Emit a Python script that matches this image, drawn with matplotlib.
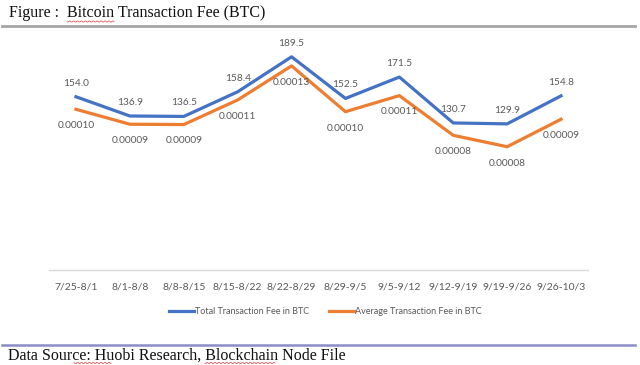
import matplotlib.pyplot as plt
import numpy as np

weeks = ['7/25-8/1', '8/1-8/8', '8/8-8/15', '8/15-8/22', '8/22-8/29',
         '8/29-9/5', '9/5-9/12', '9/12-9/19', '9/19-9/26', '9/26-10/3']
total_fee = [154.0, 136.9, 136.5, 158.4, 189.5, 152.5, 171.5, 130.7, 129.9, 154.8]
avg_fee = [0.0001000, 0.0000907, 0.0000905, 0.0001058, 0.0001270,
           0.0000985, 0.0001085, 0.0000838, 0.0000767, 0.0000938]

blue = '#4472C4'
orange = '#ED7D31'
grey = '#595959'
sans = ['Lato', 'DejaVu Sans']
serif = ['Liberation Serif', 'DejaVu Serif']

fig = plt.figure(figsize=(6.4, 3.65), dpi=100)
ax = fig.add_axes([49 / 640, 95 / 365, 539 / 640, 225 / 365])
ax2 = ax.twinx()

x = np.arange(len(weeks))
l1, = ax.plot(x, total_fee, color=blue, lw=2.3, label='Total Transaction Fee in BTC')
l2, = ax2.plot(x, avg_fee, color=orange, lw=2.3, label='Average Transaction Fee in BTC')

for xi, v in zip(x, total_fee):
    ax.annotate(f'{v:.1f}', (xi, v), xytext=(0, 6.5), textcoords='offset points',
                ha='center', va='bottom', fontsize=7.3, color=grey, family=sans)
for xi, v in zip(x, avg_fee):
    ax2.annotate(f'{v:.5f}', (xi, v), xytext=(0, -8.5), textcoords='offset points',
                 ha='center', va='top', fontsize=7.3, color=grey, family=sans)

ax.set_xlim(-0.5, len(weeks) - 0.5)
ax.set_ylim(0, 200)
ax2.set_ylim(0, 0.00014)
ax.set_xticks(x)
ax.set_xticklabels(weeks, fontsize=7.5, color=grey, family=sans)
ax.tick_params(axis='x', length=0, pad=9)
ax.set_yticks([])
ax2.set_yticks([])
for a in (ax, ax2):
    for s in ('top', 'left', 'right', 'bottom'):
        a.spines[s].set_visible(False)
ax.spines['bottom'].set_visible(True)
ax.spines['bottom'].set_color('#d9d9d9')
ax.spines['bottom'].set_linewidth(1)

fig.legend(handles=[l1, l2], loc='center', bbox_to_anchor=(325 / 640, 1 - 312 / 365),
           ncol=2, frameon=False, handlelength=2.8, handletextpad=0.1, columnspacing=2.2,
           prop={'family': sans, 'size': 6.5}, labelcolor=grey)

# document framing
fig.text(9 / 640, 1 - 13 / 365, 'Figure :  Bitcoin Transaction Fee (BTC)',
         fontsize=11.5, family=serif, va='center', ha='left', color='#111111')
fig.add_artist(plt.Line2D([2 / 640, 635 / 640], [1 - 25.7 / 365] * 2, color='#a6a6a6', lw=2))
fig.add_artist(plt.Line2D([2 / 640, 635 / 640], [1 - 345 / 365] * 2, color='#8c8cc8', lw=1.8))
fig.text(8 / 640, 1 - 356 / 365, 'Data Source: Huobi Research, Blockchain Node File',
         fontsize=11.5, family=serif, va='center', ha='left', color='#111111')

# spell-check squiggles from the word processor screenshot
for x0, x1, y in [(67, 115, 21.5), (74, 112, 363), (205, 276, 363)]:
    xs = np.arange(x0, x1, 1.0)
    ys = y + 0.7 * np.sin(xs * 1.6)
    fig.add_artist(plt.Line2D(xs / 640, 1 - ys / 365, color='#e03c3c', lw=0.5))

fig.savefig('out.png', dpi=100)
